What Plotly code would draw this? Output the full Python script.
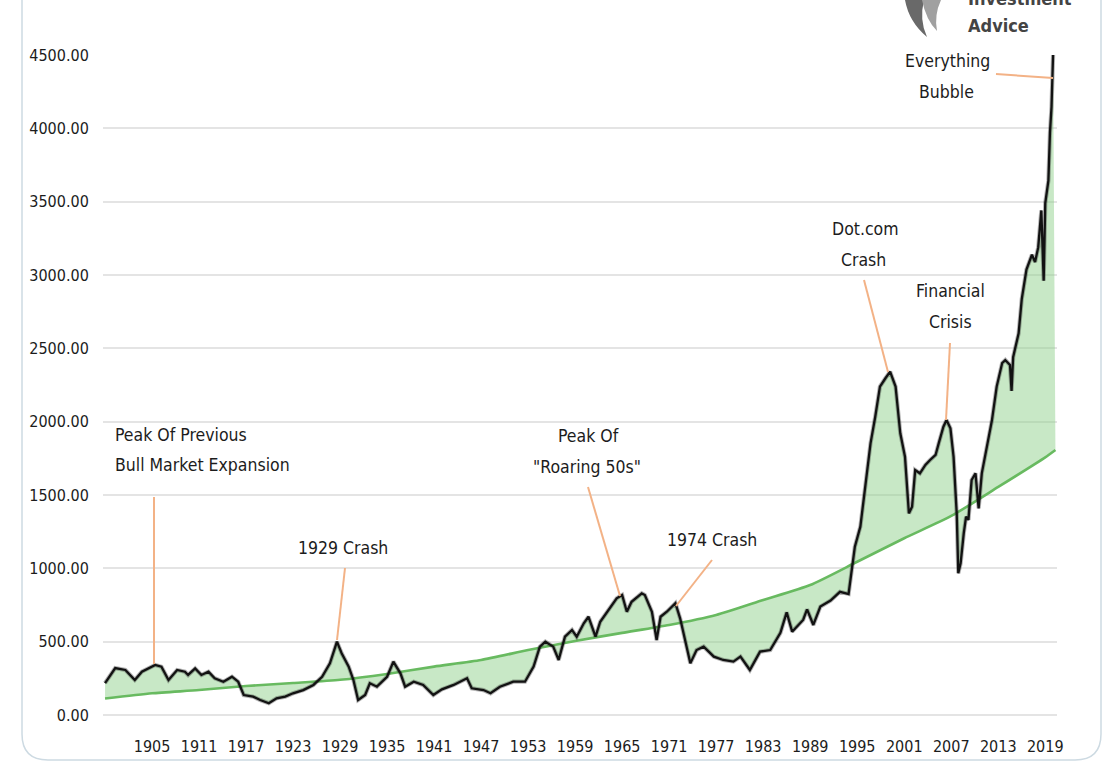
import plotly.graph_objects as go

# ---------------- data ----------------
price_years = [1899.0, 1900.3, 1901.6, 1902.8, 1903.7, 1905.4, 1906.2, 1907.1, 1908.2, 1909.2,
               1909.6, 1910.5, 1911.3, 1912.2, 1913.0, 1914.1, 1915.2, 1916.0, 1916.7, 1917.9,
               1918.8, 1919.9, 1920.9, 1922.0, 1923.0, 1924.3, 1925.6, 1926.7, 1927.7, 1928.6,
               1929.2, 1930.1, 1930.7, 1931.3, 1932.2, 1932.8, 1933.7, 1935.0, 1935.8, 1936.7,
               1937.3, 1938.4, 1939.6, 1940.9, 1942.0, 1943.5, 1945.2, 1945.8, 1947.3, 1948.2,
               1949.4, 1951.1, 1952.6, 1953.7, 1954.5, 1955.2, 1956.2, 1956.9, 1957.7, 1958.6,
               1959.2, 1960.1, 1960.7, 1961.6, 1962.2, 1963.3, 1964.3, 1965.0, 1965.6, 1966.2,
               1967.5, 1967.9, 1968.8, 1969.4, 1969.9, 1970.7, 1971.8, 1972.4, 1973.0, 1973.7,
               1974.5, 1975.4, 1976.7, 1977.9, 1979.2, 1980.1, 1981.3, 1982.6, 1983.9, 1985.2,
               1986.0, 1986.7, 1988.1, 1988.6, 1989.4, 1990.3, 1991.6, 1992.8, 1993.9, 1994.3,
               1994.7, 1995.4, 1996.0, 1996.7, 1997.3, 1997.9, 1998.6, 1999.2, 1999.9, 2000.5,
               2001.1, 2001.6, 2002.0, 2002.4, 2003.0, 2003.7, 2004.3, 2005.0, 2005.4, 2006.0,
               2006.4, 2006.9, 2007.3, 2007.7, 2007.9, 2008.2, 2008.6, 2008.9, 2009.2, 2009.6,
               2010.1, 2010.5, 2010.9, 2011.5, 2012.2, 2012.8, 2013.5, 2013.9, 2014.5, 2014.7,
               2014.9, 2015.6, 2016.0, 2016.6, 2017.3, 2017.7, 2018.1, 2018.5, 2018.8, 2019.0,
               2019.4, 2019.6, 2019.8, 2020.0]
price_values = [218, 320, 307, 239, 295, 341, 329, 239, 307, 295,
                273, 318, 273, 295, 250, 227, 261, 227, 136, 125,
                102, 80, 114, 125, 148, 170, 205, 261, 352, 500,
                421, 330, 239, 102, 136, 216, 193, 261, 364, 284,
                193, 227, 205, 136, 175, 205, 250, 182, 170, 148,
                193, 227, 227, 330, 466, 500, 466, 375, 534, 580,
                534, 625, 670, 534, 636, 716, 796, 818, 704, 772,
                830, 818, 704, 511, 670, 704, 762, 659, 511, 352,
                443, 466, 398, 375, 364, 398, 307, 432, 443, 560,
                700, 568, 648, 720, 614, 739, 780, 840, 825, 1000,
                1148, 1284, 1557, 1852, 2034, 2239, 2296, 2341, 2239, 1921,
                1761, 1375, 1420, 1670, 1648, 1705, 1739, 1773, 1852, 1966,
                2011, 1955, 1761, 1375, 966, 1034, 1239, 1352, 1330, 1602,
                1648, 1409, 1648, 1807, 2011, 2239, 2400, 2420, 2386, 2210,
                2440, 2602, 2836, 3037, 3138, 3089, 3188, 3440, 2961, 3491,
                3643, 3971, 4147, 4501]

trend_years = [1899.0, 1905, 1911, 1917, 1923, 1929, 1935, 1941, 1947, 1953, 1959, 1965,
               1971, 1977, 1983, 1989, 1995, 2001, 2007, 2013, 2019, 2020.3]
trend_values = [112, 148, 170, 198, 218, 240, 280, 330, 375, 443, 505, 560,
                614, 682, 784, 886, 1045, 1205, 1357, 1555, 1757, 1807]

x_tick_years = [1905, 1911, 1917, 1923, 1929, 1935, 1941, 1947, 1953, 1959,
                1965, 1971, 1977, 1983, 1989, 1995, 2001, 2007, 2013, 2019]
y_tick_values = [0, 500, 1000, 1500, 2000, 2500, 3000, 3500, 4000, 4500]

# ---------------- layout geometry ----------------
W, H = 1107, 764
PL, PR, PT, PB = 103, 1057, 55, 715          # plot area in pixels
X0, X1 = 1898.74, 2020.5
Y0, Y1 = 0, 4500

def px2x(px):
    return X0 + (px - PL) * (X1 - X0) / (PR - PL)

def px2y(py):
    return Y0 + (PB - py) * (Y1 - Y0) / (PB - PT)

def px2paper(px, py):
    return (px - PL) / (PR - PL), (PB - py) / (PB - PT)

FONT = "DejaVu Sans Condensed, Liberation Sans Narrow, Arial Narrow, sans-serif"
TXT = "#1c1c1c"
ORANGE = "rgb(243,178,134)"
GREEN_LINE = "rgb(104,186,96)"

fig = go.Figure()

# fill between trend and price
fig.add_trace(go.Scatter(x=trend_years, y=trend_values, mode="lines",
                         line=dict(width=0, color=GREEN_LINE), hoverinfo="skip",
                         showlegend=False))
fig.add_trace(go.Scatter(x=price_years, y=price_values, mode="lines", fill="tonexty",
                         fillcolor="rgba(140,206,136,0.48)",
                         line=dict(width=0, color="black"), hoverinfo="skip",
                         showlegend=False))
# trend line
fig.add_trace(go.Scatter(x=trend_years, y=trend_values, mode="lines",
                         line=dict(width=2.6, color=GREEN_LINE, shape="spline", smoothing=0.6),
                         showlegend=False))
# price line (soft halo + core)
fig.add_trace(go.Scatter(x=price_years, y=price_values, mode="lines",
                         line=dict(width=4.2, color="rgba(40,40,40,0.35)"),
                         hoverinfo="skip", showlegend=False))
fig.add_trace(go.Scatter(x=price_years, y=price_values, mode="lines",
                         line=dict(width=2.3, color="#121212"), showlegend=False))

# ---------------- annotations ----------------
labels = [
    ("Peak Of Previous", 113, 435, "left"),
    ("Bull Market Expansion", 113, 465, "left"),
    ("1929 Crash", 343, 548, "center"),
    ("Peak Of", 588, 436, "center"),
    ("\"Roaring 50s\"", 587, 467, "center"),
    ("1974 Crash", 712, 540, "center"),
    ("Dot.com", 865, 229, "center"),
    ("Crash", 863, 260, "center"),
    ("Financial", 950, 291, "center"),
    ("Crisis", 950, 322, "center"),
    ("Everything", 947, 61, "center"),
    ("Bubble", 946, 92, "center"),
]
for text, px, py, anchor in labels:
    fig.add_annotation(x=px2x(px), y=px2y(py), text=text, showarrow=False,
                       xanchor=anchor, yanchor="middle",
                       font=dict(family=FONT, size=17.5, color=TXT))

leaders = [((154, 497), (154, 664)), ((345, 568), (337, 640)), ((588, 487), (620, 596)),
           ((712, 560), (676, 606)), ((864, 280), (888, 372)), ((950, 343), (946, 420)),
           ((996, 74), (1053, 78))]
for (ax_, ay_), (bx_, by_) in leaders:
    fig.add_shape(type="line", x0=px2x(ax_), y0=px2y(ay_), x1=px2x(bx_), y1=px2y(by_),
                  xref="x", yref="y", line=dict(color=ORANGE, width=2))

# ---------------- frame (rounded card) ----------------
def P(px, py):
    a, b = px2paper(px, py)
    return f"{a:.5f},{b:.5f}"

r = 26
L, R, B, T = 22, 1101, 760, -20
frame_path = (f"M {P(L, T)} L {P(L, B - r)} Q {P(L, B)} {P(L + r, B)} "
              f"L {P(R - r, B)} Q {P(R, B)} {P(R, B - r)} L {P(R, T)}")
fig.add_shape(type="path", path=frame_path, xref="paper", yref="paper",
              line=dict(color="rgb(205,218,226)", width=1.5), layer="below")

# ---------------- logo (partial, top right) ----------------
wing1 = f"M {P(905, 0)} Q {P(909, 22)} {P(927, 37)} Q {P(919, 20)} {P(924, 0)} Z"
wing2 = f"M {P(922, 0)} Q {P(926, 20)} {P(937, 31)} Q {P(934, 15)} {P(941, 0)} Z"
fig.add_shape(type="path", path=wing1, xref="paper", yref="paper",
              fillcolor="rgb(105,105,105)", line=dict(width=0))
fig.add_shape(type="path", path=wing2, xref="paper", yref="paper",
              fillcolor="rgb(160,160,160)", line=dict(width=0))
fig.add_annotation(x=px2paper(966, 0)[0], y=px2paper(0, -1)[1], xref="paper", yref="paper",
                   text="<b>Investment</b>", showarrow=False, xanchor="left", yanchor="middle",
                   font=dict(family=FONT, size=18, color="#444"))
fig.add_annotation(x=px2paper(966, 0)[0], y=px2paper(0, 25)[1], xref="paper", yref="paper",
                   text="<b>Advice</b>", showarrow=False, xanchor="left", yanchor="middle",
                   font=dict(family=FONT, size=18, color="#444"))

fig.update_layout(
    width=W, height=H,
    margin=dict(l=PL, r=W - PR, t=PT, b=H - PB, pad=0, autoexpand=False),
    paper_bgcolor="white", plot_bgcolor="white",
    showlegend=False,
    xaxis=dict(range=[X0, X1], tickmode="array", tickvals=x_tick_years, automargin=False,
               ticktext=[str(v) for v in x_tick_years], showgrid=False, zeroline=False,
               showline=False, ticks="outside", ticklen=17, tickcolor="rgba(0,0,0,0)",
               tickfont=dict(family=FONT, size=16, color=TXT)),
    yaxis=dict(range=[Y0, Y1], tickmode="array", tickvals=y_tick_values, automargin=False,
               tickformat=".2f", showgrid=True, gridcolor="#e4e4e4", gridwidth=2,
               zeroline=True, zerolinecolor="#e4e4e4", zerolinewidth=2, showline=False,
               ticks="outside", ticklen=10, tickcolor="rgba(0,0,0,0)",
               tickfont=dict(family=FONT, size=16, color=TXT)),
)

fig.write_html(
    "out.html",
    config={"displayModeBar": False},
    post_script="document.body.style.margin='0';document.body.style.overflow='hidden';",
)
